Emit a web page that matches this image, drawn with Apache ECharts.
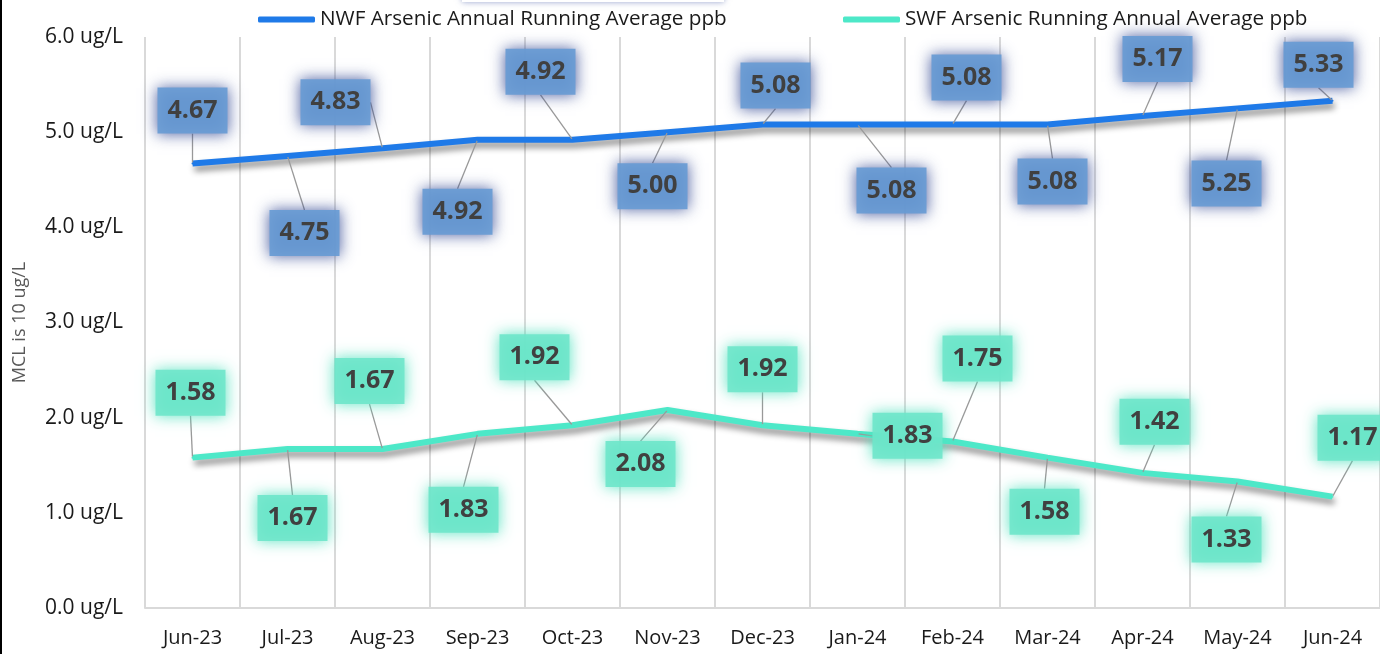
<!DOCTYPE html>
<html>
<head>
<meta charset="utf-8">
<script src="https://cdn.jsdelivr.net/npm/echarts@6/dist/echarts.min.js"></script>
<style>
  html, body { margin: 0; padding: 0; background: #fff; }
  #chart { width: 1380px; height: 654px; }
</style>
</head>
<body>
<div id="chart"></div>
<script>
var months = ['Jun-23', 'Jul-23', 'Aug-23', 'Sep-23', 'Oct-23', 'Nov-23', 'Dec-23',
  'Jan-24', 'Feb-24', 'Mar-24', 'Apr-24', 'May-24', 'Jun-24'];
var nwfValues = [4.67, 4.75, 4.83, 4.92, 4.92, 5.00, 5.08, 5.08, 5.08, 5.08, 5.17, 5.25, 5.33];
var swfValues = [1.58, 1.67, 1.67, 1.83, 1.92, 2.08, 1.92, 1.83, 1.75, 1.58, 1.42, 1.33, 1.17];
var yTicks = [0, 1, 2, 3, 4, 5, 6];

// where each data label sits relative to its point (dx, dy)
var nwfLabelShift = [[0,-53],[17,77],[-47,-46],[-20,72],[-32,-68],[-15,54],[13,-39],
  [34,66],[14,-47],[5,57],[15,-57],[-11,75],[-14,-36]];
var swfLabelShift = [[-2,-65],[5,69],[-13,-68],[-14,76],[-38,-68],[-27,54],[0,-56],
  [50,2],[25,-83],[-3,54],[12,-51],[-11,58],[20,-59]];

var FONT = '"Open Sans", "Noto Sans", sans-serif';

var chartDom = document.getElementById('chart');
var myChart = echarts.init(chartDom);

function lineSeries(name, values, color, boxColor, glow, shifts) {
  return {
    name: name,
    type: 'line',
    data: values,
    symbol: 'circle',
    symbolSize: 2,
    showSymbol: true,
    itemStyle: { color: color },
    lineStyle: {
      color: color,
      width: 6,
      shadowColor: 'rgba(0,0,0,0.45)',
      shadowBlur: 6,
      shadowOffsetX: 2,
      shadowOffsetY: 5
    },
    label: {
      show: true,
      position: 'inside',
      formatter: function (p) { return p.value.toFixed(2); },
      fontFamily: FONT,
      fontWeight: 'bold',
      fontSize: 25,
      lineHeight: 28,
      color: '#404040',
      backgroundColor: boxColor,
      padding: [9, 10],
      shadowColor: glow,
      shadowBlur: 14
    },
    labelLine: {
      show: true,
      lineStyle: { color: '#999', width: 1.3 }
    },
    labelLayout: function (params) {
      var s = shifts[params.dataIndex];
      return { dx: s[0], dy: s[1] };
    },
    z: 3
  };
}

var option = {
  animation: false,
  backgroundColor: '#fff',
  textStyle: { fontFamily: FONT },
  grid: { left: 145, right: 0, top: 37, bottom: 46 },
  legend: [
    {
      data: ['NWF Arsenic Annual Running Average ppb'],
      left: 253, top: 4,
      icon: 'roundRect', itemWidth: 57, itemHeight: 6, itemGap: 4,
      textStyle: { fontFamily: FONT, fontSize: 20.7, color: '#1a1a1a' }
    },
    {
      data: ['SWF Arsenic Running Annual Average ppb'],
      left: 838, top: 4,
      icon: 'roundRect', itemWidth: 57, itemHeight: 6,
      textStyle: { fontFamily: FONT, fontSize: 20.7, color: '#1a1a1a' }
    }
  ],
  xAxis: {
    type: 'category',
    data: months,
    boundaryGap: true,
    axisLine: { lineStyle: { color: '#d9d9d9', width: 2 } },
    axisTick: { show: false },
    axisLabel: { margin: 20, fontSize: 20, color: '#1a1a1a', fontFamily: FONT },
    splitLine: { show: true, lineStyle: { color: '#d9d9d9', width: 2 } }
  },
  yAxis: {
    type: 'value',
    min: yTicks[0],
    max: yTicks[yTicks.length - 1],
    interval: 1,
    name: 'MCL is 10 ug/L',
    nameLocation: 'middle',
    nameRotate: 90,
    nameGap: 116,
    nameTextStyle: { fontSize: 18, color: '#595959', fontFamily: FONT },
    axisLine: { show: false },
    axisTick: { show: false },
    splitLine: { show: false },
    axisLabel: {
      margin: 22,
      fontSize: 21,
      color: '#1a1a1a',
      fontFamily: FONT,
      formatter: function (v) { return v.toFixed(1) + ' ug/L'; }
    }
  },
  graphic: [
    { type: 'rect', left: 0, top: 0, shape: { width: 2, height: 654 }, style: { fill: '#000' } },
    {
      type: 'rect', left: 462, top: -28, shape: { width: 262, height: 30 },
      style: { fill: '#fff', shadowColor: 'rgba(80,100,170,0.6)', shadowBlur: 6 }
    }
  ],
  series: [
    lineSeries('NWF Arsenic Annual Running Average ppb', nwfValues, '#1f7ae8',
      'rgba(104,155,212,0.92)', 'rgba(55,75,150,0.95)', nwfLabelShift),
    lineSeries('SWF Arsenic Running Annual Average ppb', swfValues, '#4de8c8',
      'rgba(110,230,202,0.9)', 'rgba(80,225,190,1)', swfLabelShift)
  ]
};

option && myChart.setOption(option);
</script>
</body>
</html>
